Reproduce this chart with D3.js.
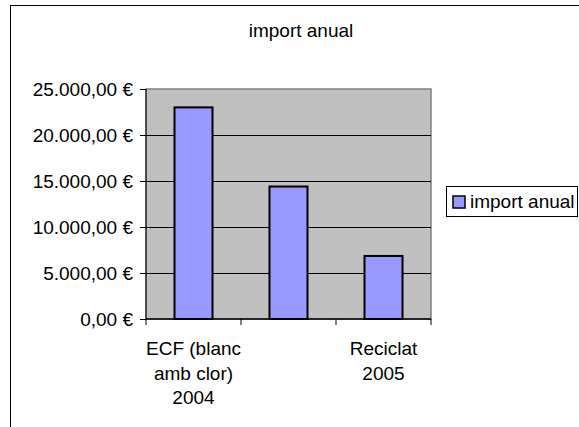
<!DOCTYPE html>
<html>
<head>
<meta charset="utf-8">
<script src="https://cdn.jsdelivr.net/npm/d3@7"></script>
<style>
  html, body { margin: 0; padding: 0; background: #fff; }
  svg { display: block; font-family: "Liberation Sans", Arial, sans-serif; }
</style>
</head>
<body>
<svg id="chart" width="579" height="427"></svg>
<script>
// ---- data ----
const title = "import anual";
const seriesName = "import anual";
const categories = ["ECF (blanc amb clor) 2004", "", "Reciclat 2005"];
const categoryLabelLines = [["ECF (blanc", "amb clor)", "2004"], [], ["Reciclat", "2005"]];
const values = [23000, 14400, 6850];
const yTicks = [0, 5000, 10000, 15000, 20000, 25000];

// ---- layout ----
const svg = d3.select("#chart");
const plot = { left: 146, right: 431, top: 89, bottom: 319 };
const fontSize = 19;

const locale = d3.formatLocale({ decimal: ",", thousands: ".", grouping: [3], currency: ["", " €"] });
const fmt = locale.format("$,.2f");

// outer chart border
svg.append("rect")
  .attr("x", 10.5).attr("y", 5.5).attr("width", 600).attr("height", 450)
  .attr("fill", "#fff").attr("stroke", "#000").attr("stroke-width", 1);

const x = d3.scaleBand()
  .domain(d3.range(categories.length))
  .range([plot.left, plot.right])
  .paddingInner(0.6).paddingOuter(0.3);

const y = d3.scaleLinear().domain([0, 25000]).range([plot.bottom, plot.top]);

// plot area background
svg.append("rect")
  .attr("x", plot.left).attr("y", plot.top)
  .attr("width", plot.right - plot.left).attr("height", plot.bottom - plot.top)
  .attr("fill", "#C0C0C0").attr("stroke", "#808080").attr("stroke-width", 1.5);

// gridlines
svg.append("g").selectAll("line")
  .data(yTicks.filter(t => t > 0 && t < 25000))
  .join("line")
  .attr("x1", plot.left).attr("x2", plot.right)
  .attr("y1", d => Math.round(y(d)) + 0.5).attr("y2", d => Math.round(y(d)) + 0.5)
  .attr("stroke", "#000").attr("stroke-width", 1);

// bars
svg.append("g").selectAll("rect")
  .data(values)
  .join("rect")
  .attr("x", (d, i) => x(i))
  .attr("y", d => y(d))
  .attr("width", x.bandwidth())
  .attr("height", d => y(0) - y(d))
  .attr("fill", "#9999FF").attr("stroke", "#000").attr("stroke-width", 2);

// y axis
const yAxis = d3.axisLeft(y).tickValues(yTicks).tickFormat(fmt).tickSize(6).tickPadding(7);
const gy = svg.append("g").attr("transform", `translate(${plot.left},0)`).call(yAxis);
gy.select(".domain").attr("stroke", "#000").attr("d", `M0,${plot.top}V${plot.bottom}`);
gy.selectAll(".tick line").attr("stroke", "#000");
gy.selectAll(".tick text").attr("font-size", fontSize).attr("fill", "#000")
  .attr("font-family", "'Liberation Sans', Arial, sans-serif").attr("dy", "0.36em");

// x axis (ticks at category boundaries)
const boundaries = d3.range(categories.length + 1).map(i => plot.left + i * x.step());
const gx = svg.append("g");
gx.append("line").attr("x1", plot.left).attr("x2", plot.right)
  .attr("y1", plot.bottom).attr("y2", plot.bottom).attr("stroke", "#000").attr("stroke-width", 1.5);
gx.selectAll("line.tk").data(boundaries).join("line").attr("class", "tk")
  .attr("x1", d => d).attr("x2", d => d)
  .attr("y1", plot.bottom).attr("y2", plot.bottom + 6).attr("stroke", "#000");

// x labels
const lab = svg.append("g").attr("font-size", fontSize).attr("text-anchor", "middle").attr("fill", "#000");
categoryLabelLines.forEach((lines, i) => {
  lines.forEach((t, j) => {
    lab.append("text")
      .attr("x", x(i) + x.bandwidth() / 2)
      .attr("y", 355 + j * 24.5)
      .text(t);
  });
});

// title
svg.append("text").attr("x", 301).attr("y", 37).attr("text-anchor", "middle")
  .attr("font-size", fontSize).attr("fill", "#000").text(title);

// legend
const lg = svg.append("g");
lg.append("rect").attr("x", 446.5).attr("y", 186.5).attr("width", 131).attr("height", 30)
  .attr("fill", "#fff").attr("stroke", "#000").attr("stroke-width", 1);
lg.append("rect").attr("x", 453).attr("y", 196).attr("width", 12).attr("height", 12)
  .attr("fill", "#9999FF").attr("stroke", "#000").attr("stroke-width", 1.5);
lg.append("text").attr("x", 470).attr("y", 208).attr("font-size", fontSize).attr("fill", "#000").text(seriesName);
</script>
</body>
</html>
